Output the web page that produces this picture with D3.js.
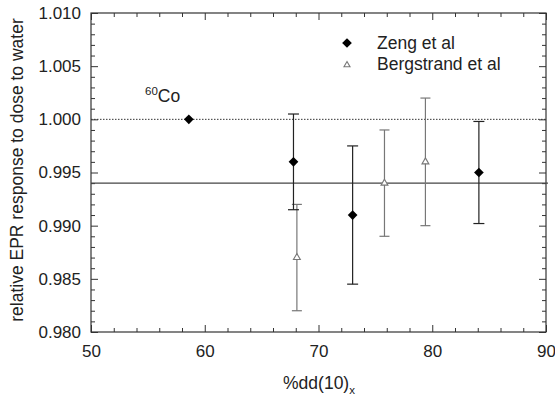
<!DOCTYPE html>
<html>
<head>
<meta charset="utf-8">
<script src="https://cdn.jsdelivr.net/npm/d3@7"></script>
<style>
  body { margin: 0; background: #fff; }
  svg { font-family: "Liberation Sans", Arial, sans-serif; }
</style>
</head>
<body>
<div id="chart"></div>
<script>
// values
const xTicks = [50, 60, 70, 80, 90];
const yTicks = [0.980, 0.985, 0.990, 0.995, 1.000, 1.005, 1.010];

// Zeng et al: x, y, error
const zengX = [58.6, 67.8, 73.0, 84.1];
const zengY = [1.000, 0.996, 0.991, 0.995];
const zengErr = [0, 0.0045, 0.0065, 0.0048];

// Bergstrand et al
const bergX = [68.1, 75.8, 79.4];
const bergY = [0.987, 0.994, 0.996];
const bergErr = [0.005, 0.005, 0.006];

const refLine = 1.000;   // dotted
const meanLine = 0.994;  // solid

const width = 555, height = 396;
const marginLeft = 91, marginRight = 9, marginTop = 13, marginBottom = 64;

const x = d3.scaleLinear([50, 90], [marginLeft, width - marginRight]);
const y = d3.scaleLinear([0.980, 1.010], [height - marginBottom, marginTop]);

const svg = d3.select("#chart").append("svg")
    .attr("width", width)
    .attr("height", height)
    .attr("viewBox", [0, 0, width, height]);

const axisColor = "#333";
const xMinor = d3.range(52, 90, 2).filter(v => v % 10 !== 0);
const yMinor = d3.range(981, 1010, 1).filter(v => v % 5 !== 0).map(v => v / 1000);

function styleAxis(g) {
  g.select(".domain").remove();
  g.selectAll(".tick line").attr("stroke", axisColor);
  g.selectAll(".tick text").attr("fill", "#222").attr("font-size", 17);
}

// bottom
svg.append("g")
    .attr("transform", `translate(0,${y(0.980)})`)
    .call(d3.axisBottom(x).tickValues(xTicks).tickSize(-7).tickPadding(13).tickFormat(d3.format("d")))
    .call(styleAxis);
svg.append("g")
    .attr("transform", `translate(0,${y(0.980)})`)
    .call(d3.axisBottom(x).tickValues(xMinor).tickSize(-4).tickFormat(""))
    .call(styleAxis);
// top
svg.append("g")
    .attr("transform", `translate(0,${y(1.010)})`)
    .call(d3.axisTop(x).tickValues(xTicks).tickSize(-7).tickFormat(""))
    .call(styleAxis);
svg.append("g")
    .attr("transform", `translate(0,${y(1.010)})`)
    .call(d3.axisTop(x).tickValues(xMinor).tickSize(-4).tickFormat(""))
    .call(styleAxis);
// left
svg.append("g")
    .attr("transform", `translate(${x(50)},0)`)
    .call(d3.axisLeft(y).tickValues(yTicks).tickSize(-7).tickPadding(10).tickFormat(d3.format(".3f")))
    .call(styleAxis);
svg.append("g")
    .attr("transform", `translate(${x(50)},0)`)
    .call(d3.axisLeft(y).tickValues(yMinor).tickSize(-4).tickFormat(""))
    .call(styleAxis);
// right
svg.append("g")
    .attr("transform", `translate(${x(90)},0)`)
    .call(d3.axisRight(y).tickValues(yTicks).tickSize(-7).tickFormat(""))
    .call(styleAxis);
svg.append("g")
    .attr("transform", `translate(${x(90)},0)`)
    .call(d3.axisRight(y).tickValues(yMinor).tickSize(-4).tickFormat(""))
    .call(styleAxis);

// frame
svg.append("rect")
    .attr("x", x(50)).attr("y", y(1.010))
    .attr("width", x(90) - x(50)).attr("height", y(0.980) - y(1.010))
    .attr("fill", "none").attr("stroke", axisColor).attr("stroke-width", 1.2);

// reference lines
svg.append("line")
    .attr("x1", x(50)).attr("x2", x(90))
    .attr("y1", y(refLine)).attr("y2", y(refLine))
    .attr("stroke", "#333").attr("stroke-dasharray", "1.5,1.5");
svg.append("line")
    .attr("x1", x(50)).attr("x2", x(90) + 2)
    .attr("y1", y(meanLine)).attr("y2", y(meanLine))
    .attr("stroke", "#444").attr("stroke-width", 1.1);

// error bars
function errorBars(X, Y, E, color, cap) {
  const I = d3.range(X.length).filter(i => E[i] > 0);
  const g = svg.append("g").attr("stroke", color).attr("stroke-width", 1.2).attr("fill", "none");
  g.selectAll(".v").data(I).join("line")
      .attr("x1", i => x(X[i])).attr("x2", i => x(X[i]))
      .attr("y1", i => y(Y[i] - E[i])).attr("y2", i => y(Y[i] + E[i]));
  g.selectAll(".t").data(I).join("line")
      .attr("x1", i => x(X[i]) - cap).attr("x2", i => x(X[i]) + cap)
      .attr("y1", i => y(Y[i] + E[i])).attr("y2", i => y(Y[i] + E[i]));
  g.selectAll(".b").data(I).join("line")
      .attr("x1", i => x(X[i]) - cap).attr("x2", i => x(X[i]) + cap)
      .attr("y1", i => y(Y[i] - E[i])).attr("y2", i => y(Y[i] - E[i]));
}
errorBars(bergX, bergY, bergErr, "#777", 5);
errorBars(zengX, zengY, zengErr, "#222", 5.5);

const diamond = d3.symbol(d3.symbolDiamond2, 60)();
const triangle = d3.symbol(d3.symbolTriangle2, 34)();

svg.append("g").selectAll("path")
  .data(d3.range(bergX.length))
  .join("path")
    .attr("d", triangle)
    .attr("transform", i => `translate(${x(bergX[i])},${y(bergY[i])})`)
    .attr("fill", "#fff").attr("stroke", "#777").attr("stroke-width", 1.1);

svg.append("g").selectAll("path")
  .data(d3.range(zengX.length))
  .join("path")
    .attr("d", diamond)
    .attr("transform", i => `translate(${x(zengX[i])},${y(zengY[i])})`)
    .attr("fill", "#000");

// 60Co label
const co = svg.append("text")
    .attr("x", 145).attr("y", 102)
    .attr("fill", "#222").attr("font-size", 17.5);
co.append("tspan").attr("font-size", 11.5).attr("dy", -7).text("60");
co.append("tspan").attr("dy", 7).text("Co");

// legend
const legend = svg.append("g").attr("font-size", 17.5).attr("fill", "#222");
legend.append("path").attr("d", diamond)
    .attr("transform", "translate(347,43)").attr("fill", "#000");
legend.append("text").attr("x", 377).attr("y", 48.5).text("Zeng et al");
legend.append("path").attr("d", d3.symbol(d3.symbolTriangle2, 26)())
    .attr("transform", "translate(347,65)")
    .attr("fill", "#fff").attr("stroke", "#777").attr("stroke-width", 1.1);
legend.append("text").attr("x", 377).attr("y", 70).text("Bergstrand et al");

// axis titles
const xt = svg.append("text")
    .attr("x", 319).attr("y", 389)
    .attr("text-anchor", "middle")
    .attr("fill", "#222").attr("font-size", 17.5);
xt.append("tspan").text("%dd(10)");
xt.append("tspan").attr("font-size", 11.5).attr("dy", 5).text("x");

svg.append("text")
    .attr("transform", "translate(23,170) rotate(-90)")
    .attr("text-anchor", "middle")
    .attr("fill", "#222").attr("font-size", 17.5)
    .text("relative EPR response to dose to water");
</script>
</body>
</html>
